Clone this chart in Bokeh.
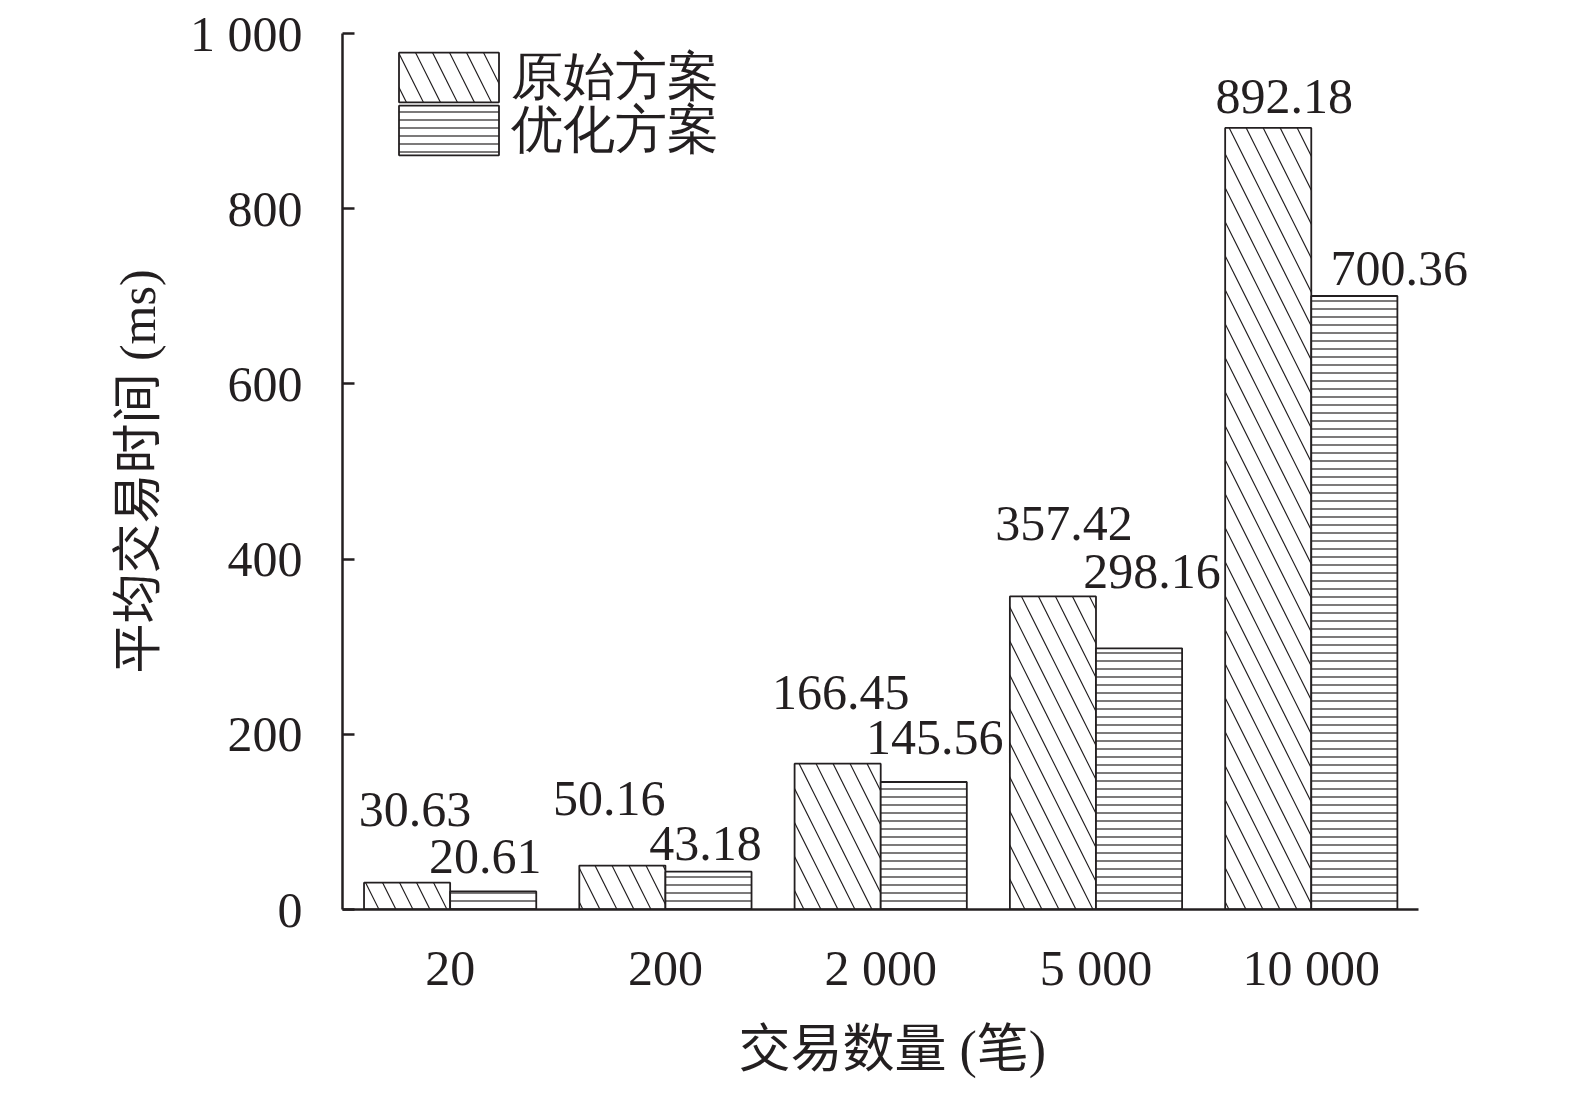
from bokeh.plotting import figure
from bokeh.models import (ColumnDataSource, FixedTicker, Label, Range1d, Legend,
                          LegendItem, Title)
from bokeh.embed import file_html
from bokeh.resources import INLINE

# ---- data ----
categories = ["20", "200", "2 000", "5 000", "10 000"]
original = [30.63, 50.16, 166.45, 357.42, 892.18]
optimized = [20.61, 43.18, 145.56, 298.16, 700.36]
series_names = ["原始方案", "优化方案"]
y_ticks = [0, 200, 400, 600, 800, 1000]
x_title = "交易数量 (笔)"
y_title = "平均交易时间 (ms)"

# label nudges (screen px), layout only
orig_dx = [8, -13, 3, 11, 16]
orig_dy = [73, 67, 71, 73, 31]
opt_dx = [-8, -3, 11, 13, 45]
opt_dy = [35, 28, 44, 77, 27]

FONT = "Liberation Serif, Noto Sans CJK SC"
INK = "#231f20"

n = len(categories)
centers = [i + 0.5 for i in range(n)]
src = ColumnDataSource(dict(
    xo=[c - 0.2 for c in centers], xp=[c + 0.2 for c in centers],
    orig=original, opt=optimized,
))

x_end = n * 1.06  # room on the right for the last value label
p = figure(frame_width=round(1076 * x_end / n), frame_height=876,
           x_range=Range1d(0, x_end), y_range=Range1d(0, 1000),
           output_backend="svg", toolbar_location=None,
           min_border_left=342, min_border_right=10, min_border_top=33,
           min_border_bottom=179)
p.outline_line_color = None
p.xgrid.grid_line_color = None
p.ygrid.grid_line_color = None
p.background_fill_color = "white"

r1 = p.vbar(x="xo", top="orig", width=0.4, source=src,
            fill_color="white", line_color=INK, line_width=1.8,
            hatch_pattern="left_diagonal_line", hatch_color=INK, hatch_scale=34,
            hatch_weight=1.2)
r2 = p.vbar(x="xp", top="opt", width=0.4, source=src,
            fill_color="white", line_color=INK, line_width=1.8,
            hatch_pattern="horizontal_line", hatch_color=INK, hatch_scale=8,
            hatch_weight=1.2)

for vals, dxs, dys, off in [(original, orig_dx, orig_dy, -0.2),
                            (optimized, opt_dx, opt_dy, 0.2)]:
    for c, v, dx, dy in zip(centers, vals, dxs, dys):
        p.add_layout(Label(x=c + off, y=v, text=f"{v:.2f}", x_offset=dx, y_offset=dy,
                           text_align="center", text_baseline="alphabetic",
                           text_font=FONT, text_font_size="50px", text_color=INK))

# axes
for ax in (p.xaxis[0], p.yaxis[0]):
    ax.axis_line_color = INK
    ax.axis_line_width = 2.5
    ax.major_label_text_font = FONT
    ax.major_label_text_font_size = "50px"
    ax.major_label_text_color = INK
    ax.axis_label_text_font = FONT
    ax.axis_label_text_font_size = "50px"
    ax.axis_label_text_font_style = "normal"
    ax.axis_label_text_color = INK
    ax.minor_tick_line_color = None

p.yaxis.ticker = FixedTicker(ticks=y_ticks)
p.yaxis.major_label_overrides = {1000: "1 000"}
p.yaxis.major_tick_in = 12
p.yaxis.major_tick_out = 0
p.yaxis.major_tick_line_width = 2.5
p.yaxis.major_tick_line_color = INK
p.yaxis.major_label_standoff = 40
p.yaxis.axis_label = y_title
p.yaxis.axis_label_standoff = 21

p.xaxis.bounds = (0, n)
p.xaxis.ticker = FixedTicker(ticks=centers)
p.xaxis.major_label_overrides = {c: name for c, name in zip(centers, categories)}
p.xaxis.major_tick_line_color = None
p.xaxis.major_tick_in = 0
p.xaxis.major_tick_out = 0
p.xaxis.major_label_standoff = 30

# x-axis title, centred under the axis line (not the wider frame)
p.add_layout(Title(text=x_title, align="left", offset=396, standoff=41,
                   text_font=FONT, text_font_size="52px", text_font_style="normal",
                   text_color=INK), "below")

# legends: one per series, stacked tightly
for r, name, yloc in [(r1, series_names[0], 797), (r2, series_names[1], 744)]:
    lg = Legend(items=[LegendItem(label=name, renderers=[r])], location=(43.5, yloc),
                border_line_color=None, background_fill_alpha=0, padding=0, margin=0,
                spacing=0, glyph_width=125, glyph_height=62, label_standoff=0,
                label_text_font="Liberation Serif", label_text_font_size="52px",
                label_text_color=INK)
    p.add_layout(lg)

open("out.html", "w").write(file_html(p, INLINE))
